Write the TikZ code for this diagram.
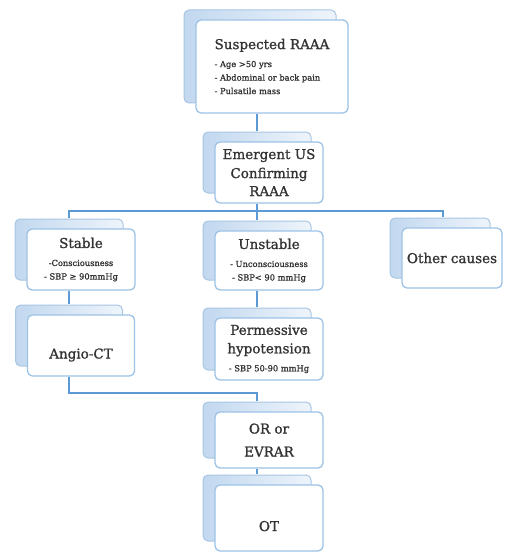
\documentclass[tikz,border=0pt]{standalone}
\usepackage{fontspec}
\setmainfont{DejaVu Serif}[FakeBold=1.2]
\usetikzlibrary{shadows,calc}
\definecolor{linkblue}{HTML}{5B9AD5}
\definecolor{frontborder}{HTML}{9DC3E6}
\definecolor{backborder}{HTML}{A9C6E4}
\definecolor{backleft}{HTML}{C2D8EF}
\definecolor{backright}{HTML}{EEF4FB}
\definecolor{txt}{HTML}{333333}
\newcommand{\titlef}{\fontsize{13.5}{18}\selectfont}
\newcommand{\smallf}{\fontsize{8.3}{13.5}\selectfont}
\tikzset{
  box/.style={draw=frontborder, line width=1.3pt, fill=white, rounded corners=5pt,
    text=txt, inner sep=2pt,
    copy shadow={shadow xshift=-12pt, shadow yshift=10pt, draw=backborder, line width=1pt,
      left color=backleft, right color=backright}},
  lowtext/.style={text height=26pt, text depth=0pt},
  link/.style={draw=linkblue, line width=2pt}
}
\begin{document}
\begin{tikzpicture}[x=1pt,y=-1pt]
\fill[white] (0,0) rectangle (504,559);
\useasboundingbox (0,0) rectangle (504,559);

\node[box, minimum width=152pt, minimum height=93pt, align=left, font=\smallf] (S) at (272,66.5)
  {{\titlef Suspected RAAA}\\[4.5pt]- Age >50 yrs\\- Abdominal or back pain\\- Pulsatile mass};
\node[box, minimum width=108pt, minimum height=61pt, align=center, font=\titlef] (E) at (269,172.5)
  {Emergent US\\[1pt]Confirming\\RAAA};
\node[box, minimum width=108pt, minimum height=61pt, align=center, font=\smallf] (St) at (81,259.5)
  {{\titlef Stable}\\[4.5pt]-Consciousness\\- SBP ≥ 90mmHg};
\node[box, minimum width=108pt, minimum height=59pt, align=center, font=\smallf] (Un) at (269,260.5)
  {{\titlef Unstable}\\[4.5pt]- Unconsciousness\\- SBP< 90 mmHg};
\node[box, minimum width=100pt, minimum height=60pt, align=center, font=\titlef] (Ot) at (452,258)
  {Other causes};
\node[box, lowtext, minimum width=107pt, minimum height=61pt, align=center, font=\titlef] (An) at (81,345.5)
  {Angio-CT};
\node[box, minimum width=108pt, minimum height=62pt, align=center, font=\smallf] (Pe) at (269,349)
  {{\titlef Permessive}\\[5pt]{\titlef hypotension}\\[4.5pt]- SBP 50-90 mmHg};
\node[box, minimum width=108pt, minimum height=56pt, align=center, font=\titlef] (OR) at (269,440)
  {OR or\\[5pt]EVRAR};
\node[box, lowtext, minimum width=108pt, minimum height=66pt, align=center, font=\titlef] (OT) at (269,518)
  {OT};

\coordinate (eTop) at ([xshift=-12pt,yshift=10pt]E.north);
\coordinate (sBot) at (eTop |- S.south);
\coordinate (j1) at ($([xshift=-12pt]E.south)+(0,7)$);
\coordinate (j2) at ($([xshift=-12pt]An.south)+(0,16)$);

\draw[link] (sBot) -- (eTop);
\draw[link] ([xshift=-12pt]E.south) -- (j1);
\draw[link] (j1) -| ([xshift=-12pt,yshift=10pt]St.north);
\draw[link] (j1) -| ([xshift=-9pt,yshift=10pt]Ot.north);
\draw[link] (j1) -- ([xshift=-12pt,yshift=10pt]Un.north);
\draw[link] ([xshift=-12pt]St.south) -- ([xshift=-12pt,yshift=10pt]An.north);
\draw[link] ([xshift=-12pt]Un.south) -- ([xshift=-12pt,yshift=10pt]Pe.north);
\draw[link] ([xshift=-12pt]An.south) -- (j2) -| ([xshift=-12pt,yshift=10pt]OR.north);
\draw[link] ([xshift=-12pt]OR.south) -- ([xshift=-12pt,yshift=10pt]OT.north);
\end{tikzpicture}
\end{document}
